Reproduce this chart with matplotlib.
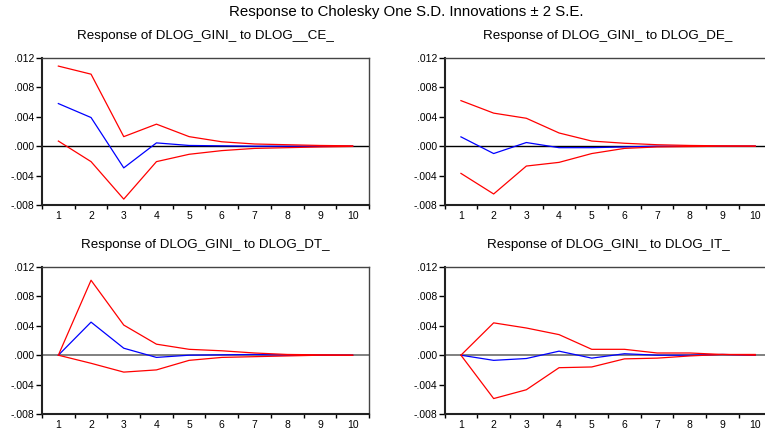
import matplotlib
matplotlib.use("Agg")
import matplotlib.pyplot as plt
import numpy as np
from matplotlib.ticker import FuncFormatter, MultipleLocator, FixedLocator

plt.rcParams['font.family'] = ['Liberation Sans', 'DejaVu Sans']

periods = [1, 2, 3, 4, 5, 6, 7, 8, 9, 10]

# response of DLOG_GINI_ to DLOG__CE_
ce_mid = [0.0058, 0.0039, -0.00295, 0.00045, 0.0001, 0.00005, 0.0, 0.0, 0.0, 0.0]
ce_hi = [0.0109, 0.0098, 0.0013, 0.0030, 0.0013, 0.0006, 0.0003, 0.0002, 0.0001, 0.00005]
ce_lo = [0.0007, -0.0021, -0.0072, -0.0021, -0.0011, -0.0006, -0.0003, -0.0002, -0.0001, -0.00003]

# response to DLOG_DE_
de_mid = [0.00127, -0.0010, 0.0005, -0.0002, -0.0002, -0.0001, 0.0, 0.0, 0.0, 0.0]
de_hi = [0.0062, 0.0045, 0.0038, 0.0018, 0.0007, 0.0004, 0.0002, 0.0001, 0.00005, 0.00002]
de_lo = [-0.0037, -0.0065, -0.0027, -0.0022, -0.0010, -0.0003, -0.0001, -0.00005, 0.0, 0.0]

# response to DLOG_DT_
dt_mid = [0.0, 0.0045, 0.00095, -0.0003, 0.0, 0.00005, 0.0001, 0.0, 0.0, 0.0]
dt_hi = [0.0, 0.0102, 0.0041, 0.0015, 0.0008, 0.0006, 0.0003, 0.0001, 0.00005, 0.0]
dt_lo = [0.0, -0.0011, -0.0023, -0.0020, -0.0007, -0.0003, -0.0002, -0.0001, 0.0, 0.0]

# response to DLOG_IT_
it_mid = [0.0, -0.0007, -0.00045, 0.00055, -0.0004, 0.0002, 0.0, 0.0, 0.0001, 0.0]
it_hi = [0.0, 0.0044, 0.0037, 0.0028, 0.0008, 0.0008, 0.0003, 0.0003, 0.0001, 0.0001]
it_lo = [0.0, -0.0059, -0.0047, -0.0017, -0.0016, -0.0005, -0.0004, -0.0001, 0.0001, 0.0]

titles = ["Response of DLOG_GINI_ to DLOG__CE_", "Response of DLOG_GINI_ to DLOG_DE_",
          "Response of DLOG_GINI_ to DLOG_DT_", "Response of DLOG_GINI_ to DLOG_IT_"]


def fmt(v, pos):
    s = "%.3f" % v
    s = s.replace("0.", ".")
    if s == "-.000":
        s = ".000"
    return s


fig = plt.figure(figsize=(7.65, 4.29), dpi=100)
fig.text(0.531, 0.971, "Response to Cholesky One S.D. Innovations \u00b1 2 S.E.",
         ha='center', va='center', fontsize=10.8)

w = 327 / 765
h = 147 / 429
boxes = [(42 / 765, 1 - 205 / 429), (444.6 / 765, 1 - 205 / 429),
         (42 / 765, 1 - 414 / 429), (444.6 / 765, 1 - 414 / 429)]
panels = [(ce_mid, ce_hi, ce_lo), (de_mid, de_hi, de_lo),
          (dt_mid, dt_hi, dt_lo), (it_mid, it_hi, it_lo)]

for i, (box, (mid, hi, lo)) in enumerate(zip(boxes, panels)):
    ax = fig.add_axes([box[0], box[1], w, h])
    zc = 'black' if i < 2 else '#808080'
    ax.axhline(0, color=zc, lw=1.0 if i < 2 else 1.4, zorder=1)
    ax.plot(periods, hi, color='#ff0000', lw=0.9, zorder=3)
    ax.plot(periods, lo, color='#ff0000', lw=0.9, zorder=3)
    ax.plot(periods, mid, color='#0000ff', lw=0.9, zorder=2)
    ax.set_xlim(0.5, 10.5)
    ax.set_ylim(-0.008, 0.012)
    ax.yaxis.set_major_locator(MultipleLocator(0.004))
    ax.yaxis.set_major_formatter(FuncFormatter(fmt))
    ax.xaxis.set_major_locator(FixedLocator(periods))
    ax.xaxis.set_minor_locator(FixedLocator(np.arange(0.5, 11, 1.0)))
    ax.tick_params(axis='x', which='major', length=0, labelsize=7.5, pad=4)
    ax.tick_params(axis='x', which='minor', length=3, width=1.0, direction='out')
    ax.tick_params(axis='y', which='major', length=4, width=1.0, labelsize=7.5, pad=1.5)
    for s in ['left', 'bottom']:
        ax.spines[s].set_linewidth(1.5)
        ax.spines[s].set_color('#222222')
    for s in ['top', 'right']:
        ax.spines[s].set_linewidth(1.0)
        ax.spines[s].set_color('#444444')
    ax.set_title(titles[i], fontsize=9.6, pad=14)

fig.savefig("out.png", dpi=100)
